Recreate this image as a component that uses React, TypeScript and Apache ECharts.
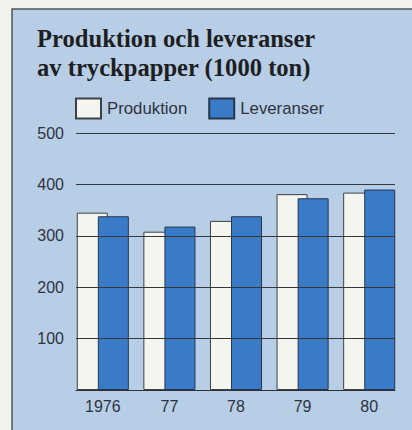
import React, { useEffect, useRef } from "react";
import * as echarts from "echarts";

const categories = ["1976", "77", "78", "79", "80"];
const produktion = [345, 308, 329, 381, 384];
const leveranser = [338, 318, 338, 373, 390];
const yTicks = { min: 0, max: 500, interval: 100 };

export default function App() {
  const ref = useRef<HTMLDivElement>(null);
  useEffect(() => {
    if (!ref.current) return;
    const chart = echarts.init(ref.current, undefined, { renderer: "svg" });
    const sans = "'Liberation Sans', Arial, sans-serif";
    chart.setOption({
      animation: false,
      backgroundColor: "#f2f2ef",
      graphic: [
        {
          type: "rect",
          z: -10,
          silent: true,
          shape: { x: 12, y: 9, width: 420, height: 440 },
          style: { fill: "#b8cee6", stroke: "#53575c", lineWidth: 1.5 },
        },
      ],
      title: {
        text: "Produktion och leveranser\nav tryckpapper (1000 ton)",
        left: 37,
        top: 24,
        padding: 0,
        textStyle: {
          fontFamily: "'Liberation Serif', 'Times New Roman', serif",
          fontWeight: "bold",
          fontSize: 24.6,
          lineHeight: 29,
          color: "#1e1f22",
        },
      },
      legend: {
        left: 75,
        top: 97.5,
        padding: 0,
        itemWidth: 25,
        itemHeight: 20,
        itemGap: 21,
        icon: "rect",
        textStyle: { fontFamily: sans, fontSize: 16.8, color: "#2e3340", padding: [0, 0, 0, 1] },
        data: ["Produktion", "Leveranser"],
      },
      grid: [
        { left: 76, right: 17, top: 133, bottom: 40 },
        { left: 69.5, right: 9.5, top: 133, bottom: 40 },
      ],
      xAxis: [
        {
          gridIndex: 0,
          type: "category",
          data: categories,
          z: 5,
          axisLine: { show: true, lineStyle: { color: "#2f3135", width: 1.2 } },
          axisTick: { show: false },
          axisLabel: { show: false },
          splitLine: { show: false },
        },
        {
          gridIndex: 1,
          type: "category",
          data: categories,
          axisLine: { show: false },
          axisTick: { show: false },
          axisLabel: { fontFamily: sans, fontSize: 16, color: "#2e3340", margin: 8 },
        },
      ],
      yAxis: [
        {
          gridIndex: 0,
          type: "value",
          min: yTicks.min,
          max: yTicks.max,
          interval: yTicks.interval,
          z: 5,
          axisLine: { show: false },
          axisTick: { show: false },
          axisLabel: {
            fontFamily: sans,
            fontSize: 16,
            color: "#2e3340",
            margin: 12,
            formatter: (v: number) => (v === 0 ? "" : String(v)),
          },
          splitLine: { show: true, lineStyle: { color: "#34373c", width: 1 } },
        },
        {
          gridIndex: 1,
          type: "value",
          min: yTicks.min,
          max: yTicks.max,
          interval: yTicks.interval,
          show: false,
        },
      ],
      series: [
        {
          name: "Produktion",
          type: "bar",
          xAxisIndex: 1,
          yAxisIndex: 1,
          data: produktion,
          barWidth: 31,
          barGap: "-32%",
          itemStyle: { color: "#f5f5f0", borderColor: "#3d4045", borderWidth: 1 },
        },
        {
          name: "Leveranser",
          type: "bar",
          xAxisIndex: 1,
          yAxisIndex: 1,
          data: leveranser,
          barWidth: 31,
          barGap: "-32%",
          itemStyle: { color: "#3a7bc8", borderColor: "#26364f", borderWidth: 1 },
        },
      ],
    });
    return () => chart.dispose();
  }, []);
  return (
    <div
      ref={ref}
      style={{ position: "fixed", left: 0, top: 0, width: 412, height: 430 }}
    />
  );
}
